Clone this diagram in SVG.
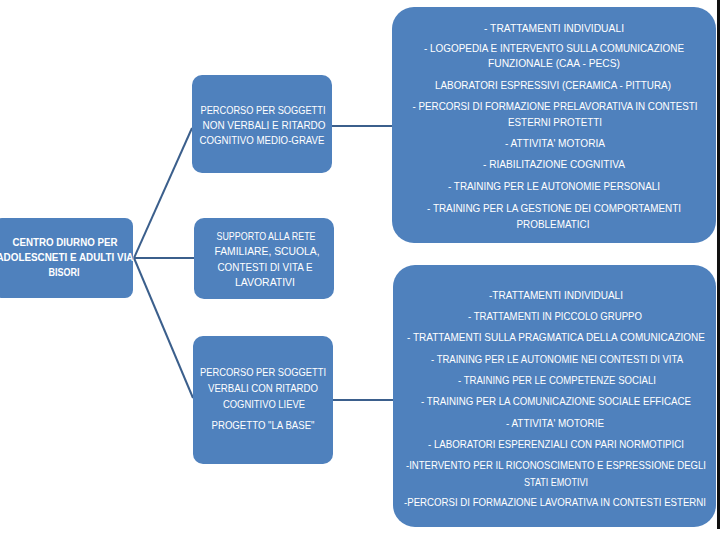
<svg xmlns="http://www.w3.org/2000/svg" width="720" height="540" viewBox="0 0 720 540">
<style>
.box{fill:#4f81bd;}
.t{font-family:"Liberation Sans",Arial,sans-serif;font-size:10.5px;fill:#ffffff;text-anchor:middle;}
.b{font-weight:bold;}
.c{stroke:#3b5f8c;stroke-width:2;fill:none;}
</style>
<rect x="0" y="0" width="720" height="540" fill="#ffffff"/>
<g id="connectors">
<line class="c" x1="134" y1="258" x2="192" y2="128"/>
<line class="c" x1="134" y1="258" x2="194" y2="258"/>
<line class="c" x1="134" y1="258" x2="193" y2="398"/>
<line class="c" x1="332" y1="126" x2="392" y2="126"/>
<line class="c" x1="333" y1="400" x2="393" y2="400"/>
</g>
<g id="root">
<rect class="box" x="-6" y="218" width="139" height="80" rx="8"/>
<text class="t b" x="65" y="246" textLength="105" lengthAdjust="spacingAndGlyphs">CENTRO DIURNO PER</text>
<text class="t b" x="65" y="261" textLength="137" lengthAdjust="spacingAndGlyphs">ADOLESCNETI E ADULTI VIA</text>
<text class="t b" x="64" y="276" textLength="31" lengthAdjust="spacingAndGlyphs">BISORI</text>
</g>
<g id="node-nonverbali">
<rect class="box" x="192" y="75" width="140" height="98" rx="10"/>
<text class="t" x="263" y="114" textLength="125" lengthAdjust="spacingAndGlyphs">PERCORSO PER SOGGETTI</text>
<text class="t" x="264" y="129" textLength="123" lengthAdjust="spacingAndGlyphs">NON VERBALI E RITARDO</text>
<text class="t" x="262" y="144" textLength="125" lengthAdjust="spacingAndGlyphs">COGNITIVO MEDIO-GRAVE</text>
</g>
<g id="node-supporto">
<rect class="box" x="194" y="218" width="140" height="81" rx="10"/>
<text class="t" x="266" y="240" textLength="99" lengthAdjust="spacingAndGlyphs">SUPPORTO ALLA RETE</text>
<text class="t" x="267" y="255" textLength="105" lengthAdjust="spacingAndGlyphs">FAMILIARE, SCUOLA,</text>
<text class="t" x="265" y="271" textLength="95" lengthAdjust="spacingAndGlyphs">CONTESTI DI VITA E</text>
<text class="t" x="265" y="286" textLength="60" lengthAdjust="spacingAndGlyphs">LAVORATIVI</text>
</g>
<g id="node-verbali">
<rect class="box" x="193" y="336" width="140" height="128" rx="10"/>
<text class="t" x="263" y="376" textLength="126" lengthAdjust="spacingAndGlyphs">PERCORSO PER SOGGETTI</text>
<text class="t" x="263" y="392" textLength="110" lengthAdjust="spacingAndGlyphs">VERBALI CON RITARDO</text>
<text class="t" x="264" y="408" textLength="82" lengthAdjust="spacingAndGlyphs">COGNITIVO LIEVE</text>
<text class="t" x="263" y="429" textLength="103" lengthAdjust="spacingAndGlyphs">PROGETTO "LA BASE"</text>
</g>
<g id="node-attivita-nonverbali">
<rect class="box" x="392" y="7" width="324" height="236" rx="22"/>
<text class="t" x="554" y="32" textLength="140" lengthAdjust="spacingAndGlyphs">- TRATTAMENTI INDIVIDUALI</text>
<text class="t" x="554" y="52" textLength="260" lengthAdjust="spacingAndGlyphs">- LOGOPEDIA E INTERVENTO SULLA COMUNICAZIONE</text>
<text class="t" x="554" y="67" textLength="132" lengthAdjust="spacingAndGlyphs">FUNZIONALE (CAA - PECS)</text>
<text class="t" x="553" y="89" textLength="236" lengthAdjust="spacingAndGlyphs">LABORATORI ESPRESSIVI (CERAMICA - PITTURA)</text>
<text class="t" x="555" y="110" textLength="285" lengthAdjust="spacingAndGlyphs">- PERCORSI DI FORMAZIONE PRELAVORATIVA IN CONTESTI</text>
<text class="t" x="555" y="126" textLength="94" lengthAdjust="spacingAndGlyphs">ESTERNI PROTETTI</text>
<text class="t" x="555" y="147" textLength="100" lengthAdjust="spacingAndGlyphs">- ATTIVITA' MOTORIA</text>
<text class="t" x="554" y="168" textLength="142" lengthAdjust="spacingAndGlyphs">- RIABILITAZIONE COGNITIVA</text>
<text class="t" x="554" y="190" textLength="212" lengthAdjust="spacingAndGlyphs">- TRAINING PER LE AUTONOMIE PERSONALI</text>
<text class="t" x="554" y="212" textLength="254" lengthAdjust="spacingAndGlyphs">- TRAINING PER LA GESTIONE DEI COMPORTAMENTI</text>
<text class="t" x="553" y="228" textLength="73" lengthAdjust="spacingAndGlyphs">PROBLEMATICI</text>
</g>
<g id="node-attivita-verbali">
<rect class="box" x="393" y="265" width="323" height="262" rx="22"/>
<text class="t" x="556" y="299" textLength="134" lengthAdjust="spacingAndGlyphs">-TRATTAMENTI INDIVIDUALI</text>
<text class="t" x="555" y="320" textLength="174" lengthAdjust="spacingAndGlyphs">- TRATTAMENTI IN PICCOLO GRUPPO</text>
<text class="t" x="556" y="341" textLength="298" lengthAdjust="spacingAndGlyphs">-  TRATTAMENTI SULLA PRAGMATICA DELLA COMUNICAZIONE</text>
<text class="t" x="557" y="363" textLength="252" lengthAdjust="spacingAndGlyphs">- TRAINING PER LE AUTONOMIE NEI CONTESTI DI VITA</text>
<text class="t" x="557" y="384" textLength="198" lengthAdjust="spacingAndGlyphs">-  TRAINING PER LE COMPETENZE SOCIALI</text>
<text class="t" x="556" y="405" textLength="270" lengthAdjust="spacingAndGlyphs">- TRAINING PER LA COMUNICAZIONE SOCIALE EFFICACE</text>
<text class="t" x="555" y="427" textLength="98" lengthAdjust="spacingAndGlyphs">- ATTIVITA' MOTORIE</text>
<text class="t" x="556" y="448" textLength="256" lengthAdjust="spacingAndGlyphs">- LABORATORI ESPERENZIALI CON PARI NORMOTIPICI</text>
<text class="t" x="556" y="469" textLength="300" lengthAdjust="spacingAndGlyphs">-INTERVENTO PER IL RICONOSCIMENTO E ESPRESSIONE DEGLI</text>
<text class="t" x="556" y="486" textLength="64" lengthAdjust="spacingAndGlyphs">STATI EMOTIVI</text>
<text class="t" x="555" y="506" textLength="302" lengthAdjust="spacingAndGlyphs">-PERCORSI DI FORMAZIONE LAVORATIVA IN CONTESTI ESTERNI</text>
</g>
<rect x="717" y="0" width="3" height="529" fill="#111111"/>
</svg>
